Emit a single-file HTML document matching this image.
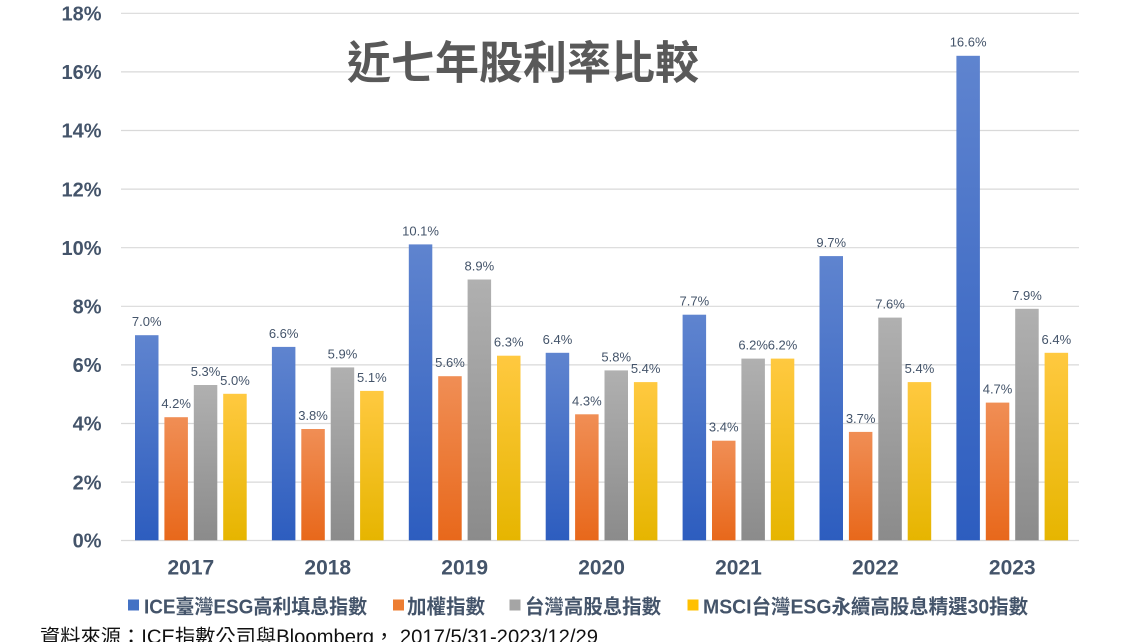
<!DOCTYPE html>
<html>
<head>
<meta charset="utf-8">
<style>
  html, body { margin: 0; padding: 0; background: #ffffff; }
  body { width: 1137px; height: 642px; overflow: hidden; }
  svg { display: block; }
  .yl { font-family: "Liberation Sans", "Noto Sans CJK TC", sans-serif; font-weight: bold; font-size: 20px; fill: #44546a; }
  .xl { font-family: "Liberation Sans", "Noto Sans CJK TC", sans-serif; font-weight: bold; font-size: 21px; fill: #44546a; }
  .dl { font-family: "Liberation Sans", "Noto Sans CJK TC", sans-serif; font-size: 13px; fill: #44546a; }
  .lg { font-family: "Liberation Sans", "Noto Sans CJK TC", sans-serif; font-weight: bold; font-size: 20px; fill: #44546a; }
  .src { font-family: "Liberation Sans", "Noto Sans CJK TC", sans-serif; font-size: 20px; fill: #111111; }
  .ttl { font-family: "Noto Sans CJK TC", "Noto Sans CJK SC", sans-serif; font-weight: bold; font-size: 45px; fill: #595959; }
</style>
</head>
<body>
<svg width="1137" height="642" viewBox="0 0 1137 642" xmlns="http://www.w3.org/2000/svg">
  <defs>
    <linearGradient id="gb" x1="0" y1="0" x2="0" y2="1">
      <stop offset="0" stop-color="#5f84cf"/>
      <stop offset="1" stop-color="#2d5dbf"/>
    </linearGradient>
    <linearGradient id="go" x1="0" y1="0" x2="0" y2="1">
      <stop offset="0" stop-color="#f08e55"/>
      <stop offset="1" stop-color="#e8681b"/>
    </linearGradient>
    <linearGradient id="gg" x1="0" y1="0" x2="0" y2="1">
      <stop offset="0" stop-color="#b0b0b0"/>
      <stop offset="1" stop-color="#8b8b8b"/>
    </linearGradient>
    <linearGradient id="gy" x1="0" y1="0" x2="0" y2="1">
      <stop offset="0" stop-color="#ffc940"/>
      <stop offset="1" stop-color="#e6b500"/>
    </linearGradient>
  </defs>
  <rect x="0" y="0" width="1137" height="642" fill="#ffffff"/>

  <!-- gridlines -->
  <g stroke="#d9d9d9" stroke-width="1.2">
    <line x1="121" y1="13.3" x2="1079" y2="13.3"/>
    <line x1="121" y1="71.9" x2="1079" y2="71.9"/>
    <line x1="121" y1="130.5" x2="1079" y2="130.5"/>
    <line x1="121" y1="189.1" x2="1079" y2="189.1"/>
    <line x1="121" y1="247.7" x2="1079" y2="247.7"/>
    <line x1="121" y1="306.3" x2="1079" y2="306.3"/>
    <line x1="121" y1="364.9" x2="1079" y2="364.9"/>
    <line x1="121" y1="423.5" x2="1079" y2="423.5"/>
    <line x1="121" y1="482.1" x2="1079" y2="482.1"/>
    <line x1="121" y1="540.5" x2="1079" y2="540.5"/>
  </g>

  <!-- y labels -->
  <g class="yl" text-anchor="end">
    <text x="101.5" y="20.5">18%</text>
    <text x="101.5" y="79.1">16%</text>
    <text x="101.5" y="137.7">14%</text>
    <text x="101.5" y="196.3">12%</text>
    <text x="101.5" y="254.9">10%</text>
    <text x="101.5" y="313.5">8%</text>
    <text x="101.5" y="372.1">6%</text>
    <text x="101.5" y="430.7">4%</text>
    <text x="101.5" y="489.3">2%</text>
    <text x="101.5" y="547.7">0%</text>
  </g>

  <!-- title -->
  <text class="ttl" x="347" y="78.5" textLength="352" lengthAdjust="spacingAndGlyphs">近七年股利率比較</text>

  <!-- bars -->
  <g>
    <!-- 2017 -->
    <rect x="135" y="335.2" width="23.5" height="205.1" fill="url(#gb)"/>
    <rect x="164.4" y="417.2" width="23.5" height="123.1" fill="url(#go)"/>
    <rect x="193.8" y="385.0" width="23.5" height="155.3" fill="url(#gg)"/>
    <rect x="223.2" y="393.8" width="23.5" height="146.5" fill="url(#gy)"/>
    <!-- 2018 -->
    <rect x="271.9" y="346.9" width="23.5" height="193.4" fill="url(#gb)"/>
    <rect x="301.3" y="429.0" width="23.5" height="111.3" fill="url(#go)"/>
    <rect x="330.7" y="367.4" width="23.5" height="172.9" fill="url(#gg)"/>
    <rect x="360.1" y="390.9" width="23.5" height="149.4" fill="url(#gy)"/>
    <!-- 2019 -->
    <rect x="408.8" y="244.4" width="23.5" height="295.9" fill="url(#gb)"/>
    <rect x="438.2" y="376.2" width="23.5" height="164.1" fill="url(#go)"/>
    <rect x="467.6" y="279.5" width="23.5" height="260.8" fill="url(#gg)"/>
    <rect x="497.0" y="355.7" width="23.5" height="184.6" fill="url(#gy)"/>
    <!-- 2020 -->
    <rect x="545.7" y="352.8" width="23.5" height="187.5" fill="url(#gb)"/>
    <rect x="575.1" y="414.3" width="23.5" height="126.0" fill="url(#go)"/>
    <rect x="604.5" y="370.4" width="23.5" height="169.9" fill="url(#gg)"/>
    <rect x="633.9" y="382.1" width="23.5" height="158.2" fill="url(#gy)"/>
    <!-- 2021 -->
    <rect x="682.6" y="314.7" width="23.5" height="225.6" fill="url(#gb)"/>
    <rect x="712.0" y="440.7" width="23.5" height="99.6" fill="url(#go)"/>
    <rect x="741.4" y="358.6" width="23.5" height="181.7" fill="url(#gg)"/>
    <rect x="770.8" y="358.6" width="23.5" height="181.7" fill="url(#gy)"/>
    <!-- 2022 -->
    <rect x="819.5" y="256.1" width="23.5" height="284.2" fill="url(#gb)"/>
    <rect x="848.9" y="431.9" width="23.5" height="108.4" fill="url(#go)"/>
    <rect x="878.3" y="317.6" width="23.5" height="222.7" fill="url(#gg)"/>
    <rect x="907.7" y="382.1" width="23.5" height="158.2" fill="url(#gy)"/>
    <!-- 2023 -->
    <rect x="956.4" y="55.8" width="23.5" height="484.5" fill="url(#gb)"/>
    <rect x="985.8" y="402.6" width="23.5" height="137.7" fill="url(#go)"/>
    <rect x="1015.2" y="308.8" width="23.5" height="231.5" fill="url(#gg)"/>
    <rect x="1044.6" y="352.8" width="23.5" height="187.5" fill="url(#gy)"/>
  </g>

  <!-- data labels -->
  <g class="dl" text-anchor="middle">
    <text x="146.75" y="326.2">7.0%</text>
    <text x="176.15" y="408.2">4.2%</text>
    <text x="205.55" y="376.0">5.3%</text>
    <text x="234.95" y="384.8">5.0%</text>

    <text x="283.65" y="337.9">6.6%</text>
    <text x="313.05" y="420.0">3.8%</text>
    <text x="342.45" y="358.4">5.9%</text>
    <text x="371.85" y="381.9">5.1%</text>

    <text x="420.55" y="235.4">10.1%</text>
    <text x="449.95" y="367.2">5.6%</text>
    <text x="479.35" y="270.5">8.9%</text>
    <text x="508.75" y="346.7">6.3%</text>

    <text x="557.45" y="343.8">6.4%</text>
    <text x="586.85" y="405.3">4.3%</text>
    <text x="616.25" y="361.4">5.8%</text>
    <text x="645.65" y="373.1">5.4%</text>

    <text x="694.35" y="305.7">7.7%</text>
    <text x="723.75" y="431.7">3.4%</text>
    <text x="753.15" y="349.6">6.2%</text>
    <text x="782.55" y="349.6">6.2%</text>

    <text x="831.25" y="247.1">9.7%</text>
    <text x="860.65" y="422.9">3.7%</text>
    <text x="890.05" y="308.6">7.6%</text>
    <text x="919.45" y="373.1">5.4%</text>

    <text x="968.15" y="46.3">16.6%</text>
    <text x="997.55" y="393.6">4.7%</text>
    <text x="1026.95" y="299.8">7.9%</text>
    <text x="1056.35" y="343.8">6.4%</text>
  </g>

  <!-- x labels -->
  <g class="xl" text-anchor="middle">
    <text x="190.85" y="574.5">2017</text>
    <text x="327.75" y="574.5">2018</text>
    <text x="464.65" y="574.5">2019</text>
    <text x="601.55" y="574.5">2020</text>
    <text x="738.45" y="574.5">2021</text>
    <text x="875.35" y="574.5">2022</text>
    <text x="1012.25" y="574.5">2023</text>
  </g>

  <!-- legend -->
  <rect x="128" y="599.5" width="11" height="11" fill="#4472c4"/>
  <text class="lg" x="144" y="613.5" textLength="223" lengthAdjust="spacingAndGlyphs">ICE臺灣ESG高利填息指數</text>
  <rect x="393" y="599.5" width="11" height="11" fill="#ed7d31"/>
  <text class="lg" x="407" y="613.5" textLength="78" lengthAdjust="spacingAndGlyphs">加權指數</text>
  <rect x="509.5" y="599.5" width="11" height="11" fill="#a5a5a5"/>
  <text class="lg" x="525" y="613.5" textLength="136" lengthAdjust="spacingAndGlyphs">台灣高股息指數</text>
  <rect x="687.5" y="599.5" width="11" height="11" fill="#ffc000"/>
  <text class="lg" x="703" y="613.5" textLength="325" lengthAdjust="spacingAndGlyphs">MSCI台灣ESG永續高股息精選30指數</text>

  <!-- source -->
  <text class="src" x="40" y="643.5" textLength="558" lengthAdjust="spacingAndGlyphs">資料來源：ICE指數公司與Bloomberg， 2017/5/31-2023/12/29</text>
</svg>
</body>
</html>
